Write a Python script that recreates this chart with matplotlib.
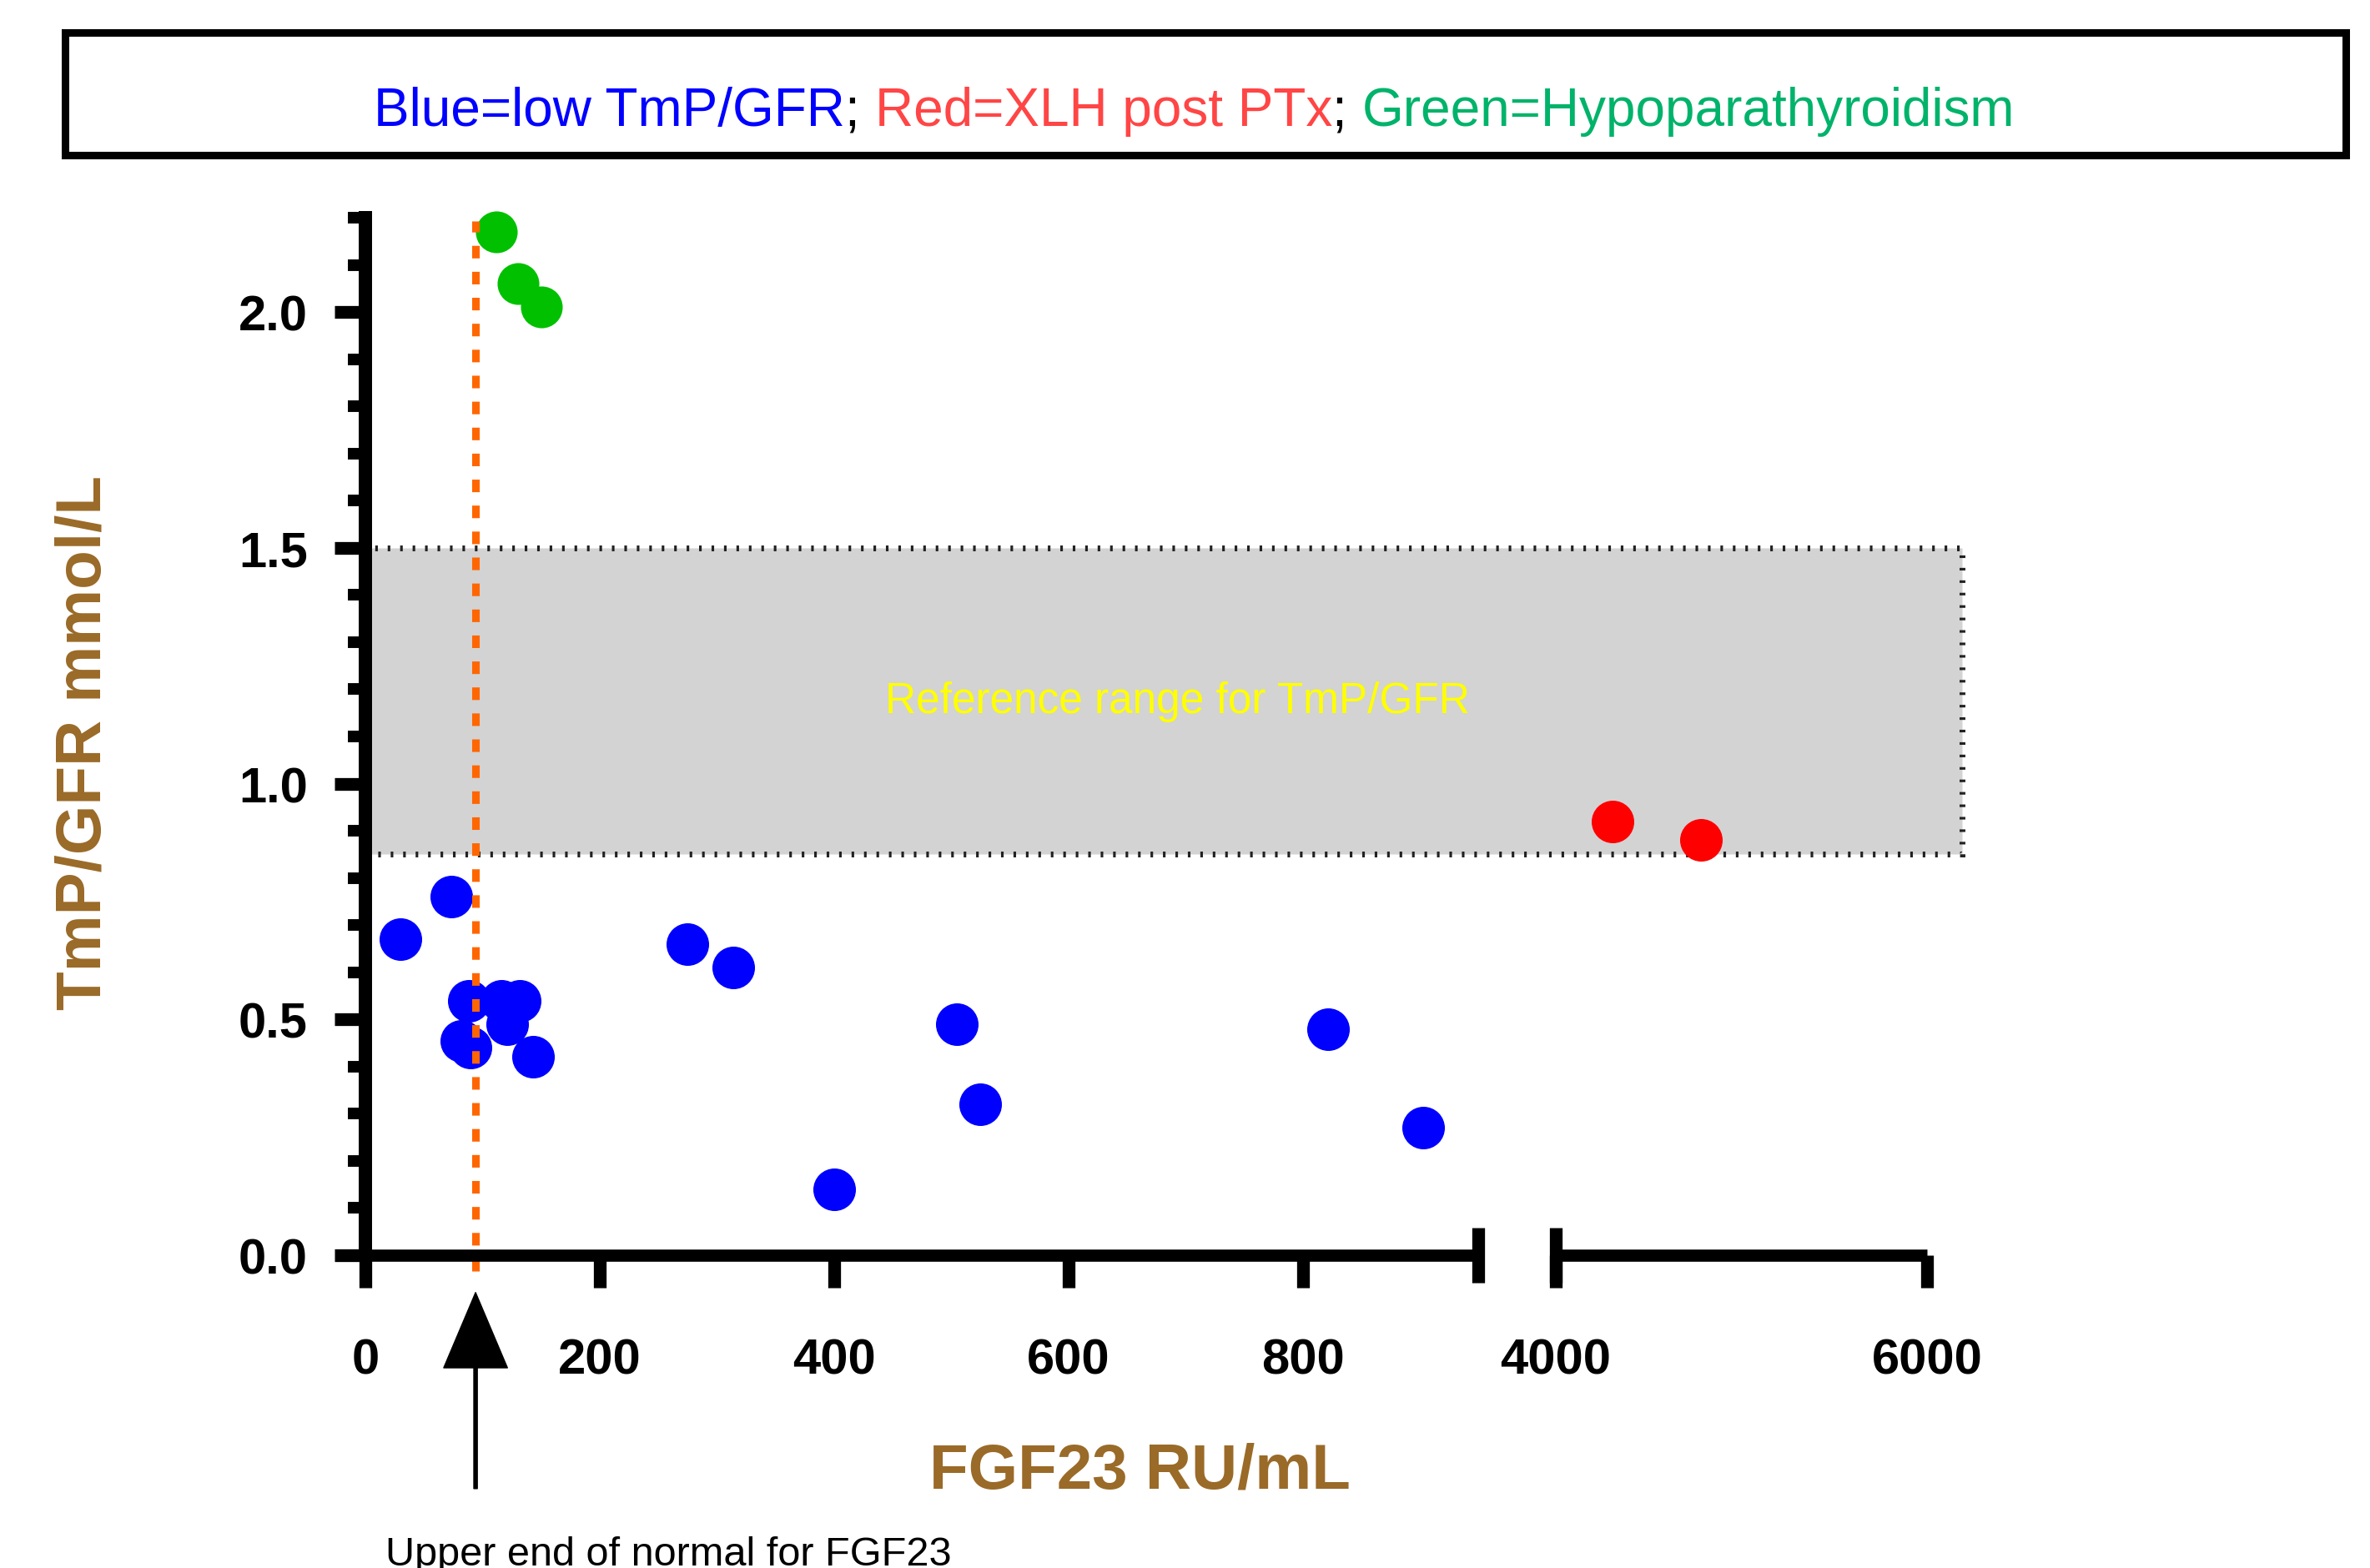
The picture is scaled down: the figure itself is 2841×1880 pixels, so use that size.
import matplotlib
matplotlib.use("Agg")
import matplotlib.pyplot as plt
import matplotlib.transforms as mtransforms
import numpy as np
from matplotlib.offsetbox import AnnotationBbox, HPacker, TextArea
from matplotlib.patches import Rectangle
from matplotlib.ticker import MultipleLocator

plt.rcParams["font.family"] = ["Liberation Sans", "DejaVu Sans"]

# values
BLUE_FGF23 = [30, 73, 88, 116, 132, 121, 82, 90, 143, 275, 314, 400, 505, 525, 822, 903]
BLUE_TMP = [0.67, 0.76, 0.54, 0.54, 0.54, 0.49, 0.455, 0.44, 0.42, 0.66, 0.61, 0.14, 0.49, 0.32, 0.48, 0.27]
RED_FGF23 = [4305, 4782]
RED_TMP = [0.92, 0.88]
GREEN_FGF23 = [112, 130, 150]
GREEN_TMP = [2.17, 2.06, 2.01]

FGF23_UPPER_NORMAL = 94
TMP_REF_LOW = 0.85
TMP_REF_HIGH = 1.5

X_TICKS = [0, 200, 400, 600, 800, 4000, 6000]
Y_TICKS = [0.0, 0.5, 1.0, 1.5, 2.0]
LEGEND_PARTS = ["Blue=low TmP/GFR", "; ", "Red=XLH post PTx", "; ", "Green=Hypoparathyroidism"]
LEGEND_COLORS = ["#0000FF", "black", "#FF4545", "black", "#00B36A"]

BROWN = "#9A6A28"
BREAK_LO, BREAK_HI = 950, 4000
GAP = 66.0
RIGHT_RATIO = 0.1585
X_MAX = 6000
BAND_X_END = 6190


def forward(x):
    x = np.asarray(x, dtype=float)
    mid = BREAK_LO + (x - BREAK_LO) / (BREAK_HI - BREAK_LO) * GAP
    right = BREAK_LO + GAP + (x - BREAK_HI) * RIGHT_RATIO
    return np.where(x <= BREAK_LO, x, np.where(x < BREAK_HI, mid, right))


def inverse(u):
    u = np.asarray(u, dtype=float)
    mid = BREAK_LO + (u - BREAK_LO) / GAP * (BREAK_HI - BREAK_LO)
    right = BREAK_HI + (u - BREAK_LO - GAP) / RIGHT_RATIO
    return np.where(u <= BREAK_LO, u, np.where(u < BREAK_LO + GAP, mid, right))


fig = plt.figure(figsize=(28.41, 18.81), dpi=100)
ax = fig.add_axes([0.1542, 0.1994, 0.6589, 0.6613])
ax.set_xscale("function", functions=(forward, inverse))
ax.set_xlim(0, X_MAX)
ax.set_ylim(0, 2.2)

# reference range band
band = Rectangle((0, TMP_REF_LOW), BAND_X_END, TMP_REF_HIGH - TMP_REF_LOW,
                 facecolor="#D3D3D3", edgecolor="#222222", linewidth=5,
                 linestyle=(0, (0.45, 1.7)), clip_on=False, zorder=1)
ax.add_patch(band)
band_trans = mtransforms.blended_transform_factory(ax.transAxes, ax.transData)
ax.text(0.52, (TMP_REF_LOW + TMP_REF_HIGH) / 2, "Reference range for TmP/GFR",
        transform=band_trans, ha="center", va="center", color="#FFFF00", fontsize=37, zorder=2)

ax.scatter(BLUE_FGF23, BLUE_TMP, s=1350, color="#0000FF", linewidths=0, zorder=3, clip_on=False)
ax.scatter(RED_FGF23, RED_TMP, s=1350, color="#FF0000", linewidths=0, zorder=3, clip_on=False)
ax.scatter(GREEN_FGF23, GREEN_TMP, s=1300, color="#00C000", linewidths=0, zorder=3, clip_on=False)

ax.axvline(FGF23_UPPER_NORMAL, ymin=-0.015, ymax=0.997, color="#FF6600", linewidth=6.5,
           linestyle=(0, (1.67, 1.78)), clip_on=False, zorder=4)

# axes: broken x-axis drawn by hand
for side in ["top", "right", "bottom"]:
    ax.spines[side].set_visible(False)
ax.spines["left"].set_linewidth(11.5)
xtrans = ax.get_xaxis_transform()
ax.plot([0, BREAK_LO], [0, 0], transform=xtrans, color="black", linewidth=10.5,
        solid_capstyle="butt", clip_on=False, zorder=5)
ax.plot([BREAK_HI, X_MAX], [0, 0], transform=xtrans, color="black", linewidth=10.5,
        solid_capstyle="butt", clip_on=False, zorder=5)
ax.vlines([BREAK_LO, BREAK_HI], -0.0265, 0.0265, transform=xtrans, color="black",
          linewidth=11, clip_on=False, zorder=5)

ax.set_xticks(X_TICKS, labels=[str(v) for v in X_TICKS], fontweight="bold")
ax.set_yticks(Y_TICKS, labels=[f"{v:.1f}" for v in Y_TICKS], fontweight="bold")
ax.yaxis.set_minor_locator(MultipleLocator(0.1))
ax.tick_params(axis="x", length=28, width=11, pad=43, labelsize=43, colors="black")
ax.tick_params(axis="y", which="major", length=27, width=11, pad=23, labelsize=43)
ax.tick_params(axis="y", which="minor", length=15, width=10)

ax.set_xlabel("FGF23 RU/mL", fontsize=55, fontweight="bold", color=BROWN, va="center")
ax.xaxis.set_label_coords(0.496, -0.208)
ax.set_ylabel("TmP/GFR mmol/L", fontsize=55, fontweight="bold", color=BROWN, va="center")
ax.yaxis.set_label_coords(-0.18, 0.495)

# arrow marking upper end of normal FGF23
ax.annotate("", xy=(FGF23_UPPER_NORMAL, -0.036), xytext=(FGF23_UPPER_NORMAL, -0.225),
            xycoords=xtrans, textcoords=xtrans, annotation_clip=False,
            arrowprops=dict(facecolor="black", edgecolor="black", width=3,
                            headwidth=55, headlength=65, shrink=0))
fig.text(0.282, 0.009, "Upper end of normal for FGF23", ha="center", va="center", fontsize=35)

# legend box at the top
fig.add_artist(Rectangle((0.0275, 0.9006), 0.9623, 0.0781, transform=fig.transFigure,
                         fill=False, edgecolor="black", linewidth=6.5))
pieces = [TextArea(t, textprops=dict(color=c, fontsize=46)) for t, c in zip(LEGEND_PARTS, LEGEND_COLORS)]
pack = HPacker(children=pieces, align="baseline", pad=0, sep=0)
fig.add_artist(AnnotationBbox(pack, (0.504, 0.9288), xycoords="figure fraction",
                              frameon=False, box_alignment=(0.5, 0.5)))

fig.savefig("out.png", dpi=100)
